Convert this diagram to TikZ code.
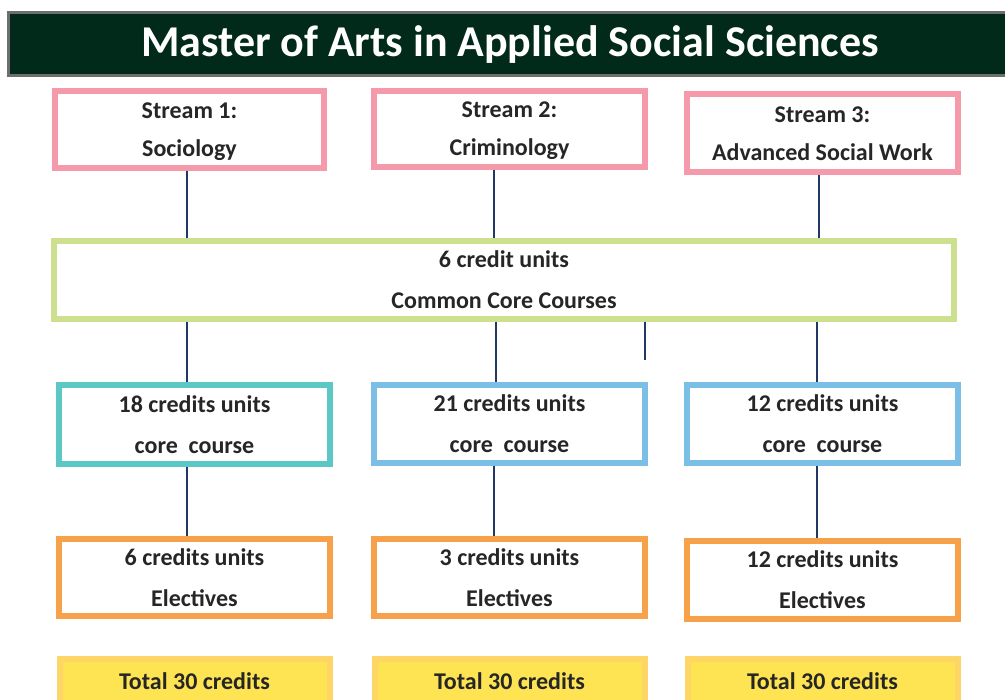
\documentclass[tikz,border=0pt]{standalone}
\usepackage{fontspec}
\setmainfont{Carlito}
\definecolor{pinkb}{HTML}{F49AAB}
\definecolor{greenb}{HTML}{CCE08E}
\definecolor{tealb}{HTML}{5BC8C5}
\definecolor{blueb}{HTML}{7BBFE6}
\definecolor{orangeb}{HTML}{F7A14B}
\definecolor{yellowf}{HTML}{FEE452}
\definecolor{yellowb}{HTML}{FDD667}
\definecolor{navy}{HTML}{1F3864}
\definecolor{titlef}{HTML}{022A1A}
\definecolor{titleb}{HTML}{6E6E6E}
\definecolor{txt}{HTML}{262626}
\tikzset{
  box/.style={draw=#1, line width=6pt, fill=white, inner sep=0pt, align=center,
    text=txt, font=\fontsize{24}{41}\selectfont\bfseries},
  inlabel/.style={text=txt, align=center, inner sep=0pt, font=\fontsize{24}{38}\selectfont\bfseries},
  link/.style={draw=navy, line width=2pt},
}
\begin{document}
\begin{tikzpicture}[x=1pt,y=-1pt]
\useasboundingbox (0,0) rectangle (1005,700);
\begin{scope}
\clip (0,0) rectangle (1005,700);
% title
\node[draw=titleb, fill=titlef, line width=3pt, minimum width=1004pt, minimum height=63pt,
  text=white, font=\fontsize{44}{48}\selectfont\bfseries, inner sep=0pt] (title) at (510,44.5)
  {Master of Arts in Applied Social Sciences};
% streams
\node[box=pinkb, minimum width=269pt, minimum height=77pt] (s1) at (189.5,129.5) {};
\node[inlabel] (s1t) at (189.5,131.5) {Stream 1:\\Sociology};
\node[box=pinkb, minimum width=271pt, minimum height=76pt] (s2) at (509.5,129) {};
\node[inlabel] (s2t) at (509.5,131) {Stream 2:\\Criminology};
\node[box=pinkb, minimum width=271pt, minimum height=78pt] (s3) at (822.5,133) {};
\node[inlabel] (s3t) at (822.5,134) {Stream 3:\\Advanced Social Work};
% common core
\node[box=greenb, minimum width=900pt, minimum height=78pt] (cc) at (504,280) {6 credit units\\Common Core Courses};
% core courses
\node[box=tealb, minimum width=271pt, minimum height=79pt] (c1) at (194.5,424.5) {18 credits units\\core\ \ course};
\node[box=blueb, minimum width=271pt, minimum height=78pt] (c2) at (509.5,424) {21 credits units\\core\ \ course};
\node[box=blueb, minimum width=271pt, minimum height=78pt] (c3) at (822.5,424) {12 credits units\\core\ \ course};
% electives
\node[box=orangeb, minimum width=271pt, minimum height=77pt] (e1) at (194.5,577.5) {6 credits units\\Electives};
\node[box=orangeb, minimum width=271pt, minimum height=77pt] (e2) at (509.5,577.5) {3 credits units\\Electives};
\node[box=orangeb, minimum width=271pt, minimum height=78pt] (e3) at (822.5,580) {12 credits units\\Electives};
% totals
\node[box=yellowb, fill=yellowf, minimum width=270pt, minimum height=70pt, anchor=north] (t1) at (194.5,655.5) {};
\node[box=yellowb, fill=yellowf, minimum width=270pt, minimum height=70pt, anchor=north] (t2) at (509.5,655.5) {};
\node[box=yellowb, fill=yellowf, minimum width=270pt, minimum height=70pt, anchor=north] (t3) at (822.5,655.5) {};
\node[inlabel] (tl1) at (194.5,681) {Total 30 credits};
\node[inlabel] (tl2) at (509.5,681) {Total 30 credits};
\node[inlabel] (tl3) at (822.5,681) {Total 30 credits};
\end{scope}
% connectors
\coordinate (a1) at (187,0);
\coordinate (a2) at (494,0);
\coordinate (a3) at (819,0);
\draw[link] (s1.south -| a1) -- (cc.north -| a1);
\draw[link] (s2.south -| a2) -- (cc.north -| a2);
\draw[link] (s3.south -| a3) -- (cc.north -| a3);
\coordinate (b2) at (496,0);
\coordinate (b3) at (817,0);
\draw[link] (cc.south -| a1) -- (c1.north -| a1);
\draw[link] (cc.south -| b2) -- (c2.north -| b2);
\draw[link] (cc.south -| b3) -- (c3.north -| b3);
\coordinate (dend) at (645,360);
\draw[link] (cc.south -| dend) -- (dend);
\draw[link] (c1.south -| a1) -- (e1.north -| a1);
\draw[link] (c2.south -| a2) -- (e2.north -| a2);
\draw[link] (c3.south -| b3) -- (e3.north -| b3);
\end{tikzpicture}
\end{document}
